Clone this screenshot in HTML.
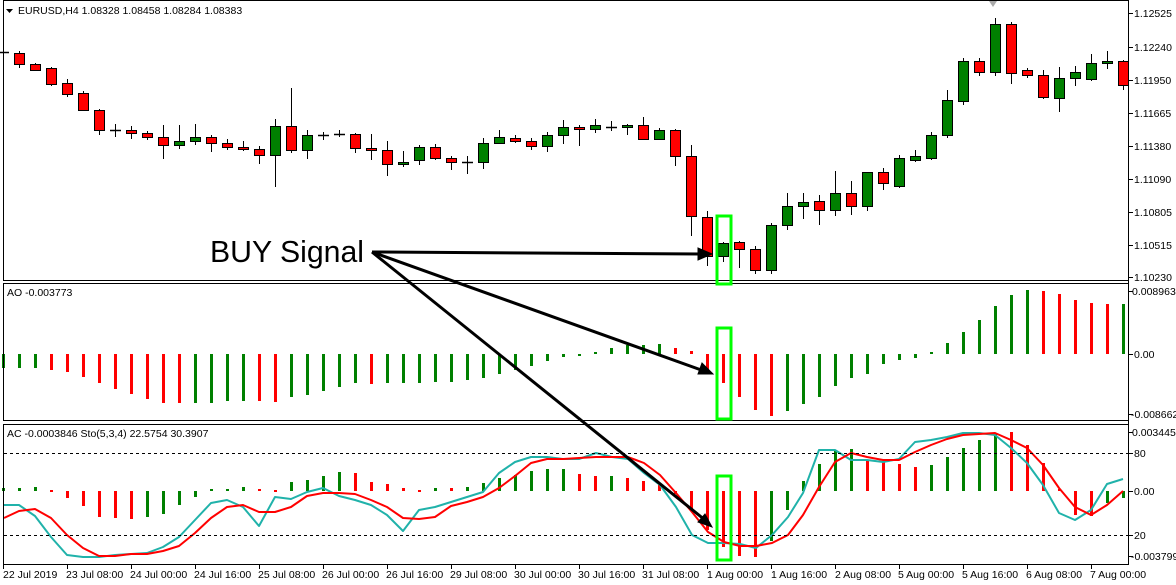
<!DOCTYPE html>
<html><head><meta charset="utf-8"><style>
html,body{margin:0;padding:0;background:#fff;overflow:hidden}
svg{display:block}
text{font-family:"Liberation Sans",sans-serif;font-size:10.5px;fill:#000}
</style></head><body>
<svg id="s" width="1176" height="585" viewBox="0 0 1176 585" xmlns="http://www.w3.org/2000/svg">
<rect width="1176" height="585" fill="#fff"/>
<g id="g"></g>
<g stroke="#000" fill="none" stroke-width="1">
<rect x="3.5" y="0.5" width="1125" height="280"/>
<line x1="3.5" y1="283.5" x2="1129" y2="283.5"/>
<rect x="3.5" y="283.5" width="1125" height="137"/>
<line x1="3.5" y1="424.5" x2="1129" y2="424.5"/>
<rect x="3.5" y="424.5" width="1125" height="140"/>
<line x1="1128.5" y1="0" x2="1128.5" y2="565"/>
</g>
<g stroke="#000" stroke-width="1" stroke-dasharray="3,3">
<line x1="4" y1="453.5" x2="1128" y2="453.5"/>
<line x1="4" y1="535.5" x2="1128" y2="535.5"/>
</g>
<polygon points="989,1 997,1 993,7" fill="#aaa"/>
<text x="1134" y="17">1.12525</text>
<text x="1134" y="51">1.12240</text>
<text x="1134" y="84">1.11950</text>
<text x="1134" y="117">1.11665</text>
<text x="1134" y="150">1.11380</text>
<text x="1134" y="183">1.11090</text>
<text x="1134" y="216">1.10805</text>
<text x="1134" y="249">1.10515</text>
<text x="1134" y="281">1.10230</text>
<text x="1132" y="295">0.008963</text>
<text x="1134" y="358">0.00</text>
<text x="1131" y="418">-0.008662</text>
<text x="1132" y="436">0.0034456</text>
<text x="1134" y="457">80</text>
<text x="1134" y="495">0.00</text>
<text x="1134" y="539">20</text>
<text x="1131" y="560">-0.003799</text>
<polygon points="6,9 13,9 9.5,13" fill="#000"/>
<text x="18" y="14">EURUSD,H4  1.08328 1.08458 1.08284 1.08383</text>
<text x="7" y="296">AO -0.003773</text>
<text x="7" y="437">AC -0.0003846  Sto(5,3,4) 22.5754 30.3907</text>
<text x="3" y="578">22 Jul 2019</text>
<text x="66" y="578">23 Jul 08:00</text>
<text x="130" y="578">24 Jul 00:00</text>
<text x="194" y="578">24 Jul 16:00</text>
<text x="258" y="578">25 Jul 08:00</text>
<text x="322" y="578">26 Jul 00:00</text>
<text x="386" y="578">26 Jul 16:00</text>
<text x="450" y="578">29 Jul 08:00</text>
<text x="514" y="578">30 Jul 00:00</text>
<text x="578" y="578">30 Jul 16:00</text>
<text x="642" y="578">31 Jul 08:00</text>
<text x="707" y="578">1 Aug 00:00</text>
<text x="771" y="578">1 Aug 16:00</text>
<text x="835" y="578">2 Aug 08:00</text>
<text x="898" y="578">5 Aug 00:00</text>
<text x="962" y="578">5 Aug 16:00</text>
<text x="1026" y="578">6 Aug 08:00</text>
<text x="1090" y="578">7 Aug 00:00</text>
<text x="210" y="262" style="font-size:31px" textLength="154" lengthAdjust="spacingAndGlyphs">BUY Signal</text>
<g stroke="#00ff00" stroke-width="3" fill="none">
<rect x="717" y="216" width="14" height="68"/>
<rect x="717" y="328" width="14" height="91"/>
<rect x="717" y="476" width="14" height="84"/>
</g>
<g stroke="#000" stroke-width="3" fill="#000">
<line x1="372" y1="252" x2="702" y2="254"/>
<polygon points="712,254 698,248 698,260" stroke-width="1"/>
<line x1="372" y1="252" x2="704" y2="371"/>
<polygon points="713,374 702,363 698,374" stroke-width="1"/>
<line x1="372" y1="252" x2="705" y2="520"/>
<polygon points="712,527 705,514 698,522" stroke-width="1"/>
</g>
</svg>
<script>
var NS="http://www.w3.org/2000/svg",g=document.getElementById("g");
function el(n,a){var e=document.createElementNS(NS,n);for(var k in a)e.setAttribute(k,a[k]);g.appendChild(e);return e;}
var R="#ff0000",G="#008000";
var C=[[3,52,52,45,60],[19,53,64,51,68],[35,64,70,63,71],[51,68,84,67,86],[67,83,94,79,97],[83,93,110,91,111],[99,110,130,109,135],[115,130,130,124,137],[131,130,133,126,139],[147,133,137,131,140],[163,137,145,125,159],[179,145,141,125,149],[195,141,137,124,145],[211,137,143,135,152],[227,143,147,139,150],[243,147,149,141,151],[259,149,155,146,164],[275,155,126,119,187],[291,126,150,88,153],[307,150,135,130,159],[323,135,135,132,140],[339,134,134,130,137],[355,134,148,133,153],[371,148,150,134,160],[387,150,164,141,176],[403,164,162,151,167],[419,160,147,145,165],[435,147,158,144,160],[451,158,162,156,170],[467,162,162,156,174],[483,162,143,138,169],[499,143,137,130,144],[515,138,141,135,143],[531,141,146,138,150],[547,146,135,132,152],[563,135,127,120,144],[579,127,129,125,146],[595,129,125,119,133],[611,127,127,121,131],[627,127,125,124,135],[643,125,139,117,140],[659,139,130,128,140],[675,130,156,129,166],[691,156,216,145,236],[707,217,256,211,266],[723,256,243,242,262],[739,242,249,241,268],[755,249,270,246,274],[771,270,225,223,274],[787,225,206,193,230],[803,206,202,193,219],[819,201,210,195,225],[835,210,193,171,216],[851,193,206,181,215],[867,206,172,172,211],[883,172,183,168,190],[899,186,158,155,188],[915,160,156,150,162],[931,158,135,132,160],[947,135,100,90,138],[963,101,61,58,105],[979,61,72,58,76],[995,72,24,18,76],[1011,24,73,22,84],[1027,70,75,68,78],[1043,75,97,70,99],[1059,98,78,67,112],[1075,78,72,66,86],[1091,79,63,54,81],[1107,63,61,51,69],[1123,61,85,60,90]];
C.forEach(function(c){var x=c[0],o=c[1],cl=c[2],h=c[3],l=c[4];
 el("line",{x1:x+.5,y1:h,x2:x+.5,y2:l,stroke:"#000","stroke-width":1});
 var t=Math.min(o,cl),b=Math.max(o,cl);
 if(b-t<1){el("line",{x1:x-5,y1:t+.5,x2:x+6,y2:t+.5,stroke:"#000","stroke-width":1.5});}
 else el("rect",{x:x-4.5,y:t+.5,width:10,height:b-t,fill:cl>o?R:G,stroke:"#000","stroke-width":1});
});
var AO=[[3,368,G],[19,368,G],[35,368,G],[51,370,R],[67,372,R],[83,377,R],[99,383,R],[115,389,R],[131,394,R],[147,399,R],[163,403,R],[179,403,R],[195,403,G],[211,403,G],[227,401,G],[243,401,G],[259,401,R],[275,402,R],[291,397,G],[307,395,G],[323,391,G],[339,387,G],[355,383,G],[371,384,R],[387,383,G],[403,383,G],[419,383,G],[435,382,G],[451,382,G],[467,380,G],[483,378,G],[499,374,G],[515,370,G],[531,366,G],[547,361,G],[563,357,G],[579,355,G],[595,352,G],[611,348,G],[627,345,G],[643,345,G],[659,344,G],[675,348,R],[691,351,R],[707,370,R],[723,383,R],[739,397,R],[755,410,R],[771,416,R],[787,411,G],[803,404,G],[819,397,G],[835,386,G],[851,378,G],[867,374,G],[883,364,G],[899,360,G],[915,358,G],[931,352,G],[947,343,G],[963,332,G],[979,320,G],[995,306,G],[1011,295,G],[1027,290,G],[1043,291,R],[1059,294,R],[1075,300,R],[1091,303,R],[1107,304,R],[1123,304,G]];
AO.forEach(function(a){var z=354,t=Math.min(z,a[1]),b=Math.max(z,a[1]);if(b-t<2){b=t+2;}el("rect",{x:a[0]-1,y:t,width:3,height:b-t,fill:a[2]});});
var AC=[[3,488,G],[19,488,G],[35,487,G],[51,490,R],[67,498,R],[83,506,R],[99,517,R],[115,518,R],[131,519,R],[147,517,G],[163,514,G],[179,505,G],[195,497,G],[211,489,G],[227,489,G],[243,487,G],[259,489,R],[275,490,R],[291,482,G],[307,480,G],[323,476,G],[339,472,G],[355,473,R],[371,482,R],[387,484,R],[403,488,R],[419,490,R],[435,488,G],[451,488,R],[467,487,G],[483,483,G],[499,478,G],[515,475,G],[531,471,G],[547,469,G],[563,469,G],[579,474,R],[595,476,R],[611,476,G],[627,478,R],[643,481,R],[659,485,R],[675,494,R],[691,510,R],[707,530,R],[723,547,R],[739,556,R],[755,557,R],[771,541,G],[787,510,G],[803,481,G],[819,464,G],[835,451,G],[851,449,G],[867,461,R],[883,462,R],[899,464,R],[915,467,R],[931,465,G],[947,457,G],[963,448,G],[979,440,G],[995,433,G],[1011,432,R],[1027,445,R],[1043,463,R],[1059,489,R],[1075,515,R],[1091,516,R],[1107,503,G],[1123,498,G]];
AC.forEach(function(a){var z=491,t=Math.min(z,a[1]),b=Math.max(z,a[1]);if(b-t<2){b=t+2;}el("rect",{x:a[0]-1,y:t,width:3,height:b-t,fill:a[2]});});
var K=[[4,505],[19,505],[35,516],[51,537],[67,555],[83,557],[99,557],[115,555],[131,554],[147,553],[163,547],[179,537],[195,520],[211,503],[227,500],[243,507],[259,526],[275,497],[291,499],[307,492],[323,488],[339,496],[355,500],[371,505],[387,515],[403,531],[419,510],[435,507],[451,502],[467,497],[483,492],[499,473],[515,462],[531,457],[547,457],[563,459],[579,459],[596,453],[612,457],[628,459],[644,473],[660,485],[676,507],[692,535],[708,543],[724,543],[740,544],[756,548],[772,535],[788,517],[803,493],[819,450],[835,450],[851,460],[867,460],[883,462],[899,459],[915,442],[931,440],[947,437],[963,433],[979,433],[995,435],[1011,448],[1027,463],[1043,485],[1059,513],[1075,520],[1091,510],[1107,484],[1123,479]];
var D=[[4,518],[19,511],[35,509],[51,518],[67,535],[83,548],[99,556],[115,556],[131,554],[147,554],[163,551],[179,546],[195,533],[211,518],[227,507],[243,505],[259,512],[275,512],[291,507],[307,496],[323,493],[339,493],[355,494],[371,500],[387,507],[403,518],[419,519],[435,517],[451,506],[467,502],[483,497],[499,488],[515,476],[531,463],[547,459],[563,459],[579,458],[596,457],[612,457],[628,457],[644,463],[660,475],[676,493],[692,512],[708,532],[724,542],[740,546],[756,546],[772,543],[788,535],[803,515],[819,487],[835,462],[851,453],[867,457],[883,460],[899,460],[915,452],[931,445],[947,439],[963,435],[979,434],[995,433],[1011,440],[1027,448],[1043,465],[1059,488],[1075,507],[1091,515],[1107,505],[1123,491]];
function pl(p,c){el("polyline",{points:p.map(function(q){return q.join(",")}).join(" "),fill:"none",stroke:c,"stroke-width":2,"stroke-linejoin":"round"});}
pl(K,"#20b2aa");pl(D,"#ff0000");
[13,47,80,113,146,179,212,245,277,291,354,414,432,453,491,535,556].forEach(function(y){el("line",{x1:1129,y1:y+.5,x2:1133,y2:y+.5,stroke:"#000"});});
[3,67,131,195,259,323,387,451,515,579,643,707,771,835,899,963,1027,1091].forEach(function(x){el("line",{x1:x+.5,y1:565,x2:x+.5,y2:569,stroke:"#000"});});
</script>
</body></html>
